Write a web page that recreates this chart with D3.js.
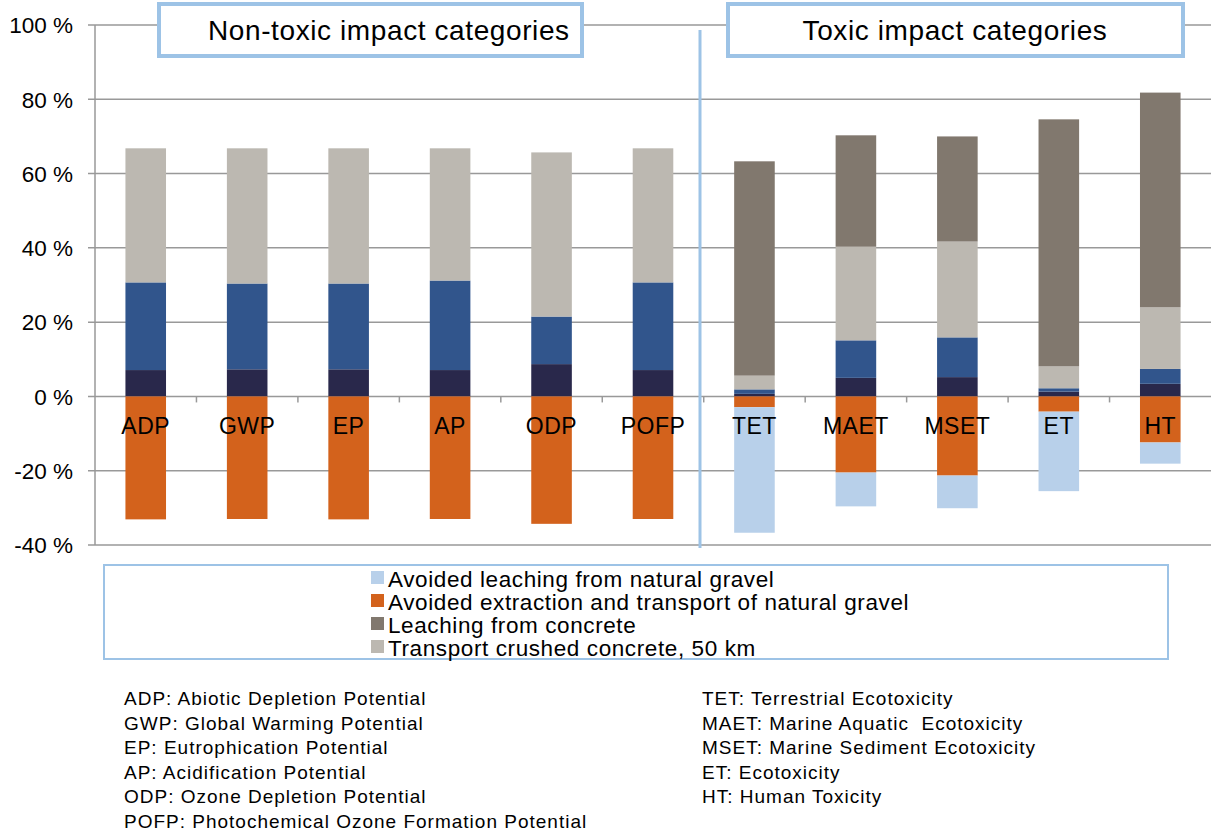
<!DOCTYPE html>
<html>
<head>
<script src="https://d3js.org/d3.v7.min.js"></script>
<style>
  body { margin: 0; background: #fff; }
  text { font-family: "Liberation Sans", Arial, sans-serif; fill: #000; white-space: pre; }
</style>
</head>
<body>
<script>
// categories and values (% contribution)
var categories = ["ADP", "GWP", "EP", "AP", "ODP", "POFP", "TET", "MAET", "MSET", "ET", "HT"];
var crushing   = [7.1, 7.3, 7.3, 7.1, 8.7, 7.1, 0.7, 5.0, 5.2, 1.3, 3.4];
var sorting    = [23.6, 23.1, 23.1, 24.1, 12.8, 23.6, 1.2, 10.1, 10.7, 0.9, 4.0];
var transport  = [36.1, 36.4, 36.4, 35.6, 44.2, 36.1, 3.7, 25.2, 25.8, 5.9, 16.6];
var leaching   = [0, 0, 0, 0, 0, 0, 57.7, 30.0, 28.3, 66.5, 57.8];
var avoidedExtraction = [-33.1, -33.0, -33.1, -33.0, -34.3, -33.0, -2.9, -20.5, -21.3, -4.1, -12.4];
var avoidedLeaching   = [0, 0, 0, 0, 0, 0, -33.8, -9.1, -8.8, -21.4, -5.7];

var yTicks = [100, 80, 60, 40, 20, 0, -20, -40];
var legendNames = ["Avoided leaching from natural gravel", "Avoided extraction and transport of natural gravel",
                   "Leaching from concrete", "Transport crushed concrete, 50 km"];
var legendKeys = ["avoidedLeaching", "avoidedExtraction", "leaching", "transport"];
var notesLeft = ["ADP: Abiotic Depletion Potential", "GWP: Global Warming Potential", "EP: Eutrophication Potential",
                 "AP: Acidification Potential", "ODP: Ozone Depletion Potential", "POFP: Photochemical Ozone Formation Potential"];
var notesRight = ["TET: Terrestrial Ecotoxicity", "MAET: Marine Aquatic  Ecotoxicity", "MSET: Marine Sediment Ecotoxicity",
                  "ET: Ecotoxicity", "HT: Human Toxicity"];

var keys = ["crushing", "sorting", "transport", "leaching", "avoidedExtraction", "avoidedLeaching"];
var colors = {
  crushing: "#29284b", sorting: "#31558c", transport: "#bcb8b1",
  leaching: "#81786e", avoidedExtraction: "#d3621c", avoidedLeaching: "#b8d0ea"
};

var rows = categories.map(function(c, i) {
  return { cat: c, crushing: crushing[i], sorting: sorting[i], transport: transport[i],
           leaching: leaching[i], avoidedExtraction: avoidedExtraction[i], avoidedLeaching: avoidedLeaching[i] };
});

var W = 1212, H = 833;
var svg = d3.select("body").append("svg").attr("width", W).attr("height", H);
svg.append("rect").attr("width", W).attr("height", H).attr("fill", "#fff");

var x = d3.scaleBand().domain(categories).range([95, 1211]).padding(0);
var y = d3.scaleLinear().domain([-40, 100]).range([545, 25]);
var barW = x.bandwidth() * 0.4;

// grid lines
svg.append("g").selectAll("line").data(yTicks).enter().append("line")
  .attr("x1", 88).attr("x2", 1211)
  .attr("y1", function(d) { return y(d); }).attr("y2", function(d) { return y(d); })
  .attr("stroke", "#999").attr("stroke-width", 1.5);

// y axis
svg.append("line").attr("x1", 95).attr("x2", 95).attr("y1", y(100)).attr("y2", y(-40))
  .attr("stroke", "#999").attr("stroke-width", 1.5);
svg.append("g").selectAll("text").data(yTicks).enter().append("text")
  .attr("x", 73).attr("y", function(d) { return y(d) + 8.3; })
  .attr("text-anchor", "end").style("font-size", "22.5px")
  .text(function(d) { return d + " %"; });

// category ticks on zero line
svg.append("g").selectAll("line").data(categories.slice(1)).enter().append("line")
  .attr("x1", function(d) { return x(d); }).attr("x2", function(d) { return x(d); })
  .attr("y1", y(0)).attr("y2", y(0) + 6)
  .attr("stroke", "#999").attr("stroke-width", 1.5);

// stacked bars
var series = d3.stack().keys(keys).offset(d3.stackOffsetDiverging)(rows);
svg.append("g").selectAll("g").data(series).enter().append("g")
  .attr("fill", function(s) { return colors[s.key]; })
  .selectAll("rect").data(function(s) { return s; }).enter().append("rect")
  .attr("x", function(d) { return x(d.data.cat) + (x.bandwidth() - barW) / 2; })
  .attr("width", barW)
  .attr("y", function(d) { return y(Math.max(d[0], d[1])); })
  .attr("height", function(d) { return Math.abs(y(d[0]) - y(d[1])); });

// category labels
svg.append("g").selectAll("text").data(categories).enter().append("text")
  .attr("x", function(d) { return x(d) + x.bandwidth() / 2; })
  .attr("y", 434).attr("text-anchor", "middle")
  .style("font-size", "23px").style("letter-spacing", "0.5px")
  .text(function(d) { return d; });

// separator
svg.append("line").attr("x1", 700).attr("x2", 700).attr("y1", 30).attr("y2", 548)
  .attr("stroke", "#9dc3e6").attr("stroke-width", 3);

// header boxes
var headers = [
  { text: "Non-toxic impact categories", x0: 159, x1: 582, tx: 208, anchor: "start" },
  { text: "Toxic impact categories", x0: 728, x1: 1183, tx: 955, anchor: "middle" }
];
headers.forEach(function(h) {
  svg.append("rect").attr("x", h.x0).attr("y", 4).attr("width", h.x1 - h.x0).attr("height", 52)
    .attr("fill", "#fff").attr("stroke", "#9dc3e6").attr("stroke-width", 4);
  svg.append("text").attr("x", h.tx).attr("y", 40).attr("text-anchor", h.anchor)
    .style("font-size", "28px").style("letter-spacing", "0.6px").text(h.text);
});

// legend
svg.append("rect").attr("x", 104).attr("y", 565).attr("width", 1064).attr("height", 94)
  .attr("fill", "#fff").attr("stroke", "#9dc3e6").attr("stroke-width", 2);
var lg = svg.append("g").selectAll("g").data(legendNames).enter().append("g")
  .attr("transform", function(d, i) { return "translate(371," + (586.5 + i * 23) + ")"; });
lg.append("rect").attr("x", 0).attr("y", -15.5).attr("width", 13).attr("height", 13)
  .attr("fill", function(d, i) { return colors[legendKeys[i]]; });
lg.append("text").attr("x", 17).style("font-size", "22.5px").style("letter-spacing", "0.6px")
  .text(function(d) { return d; });

// abbreviation notes
svg.append("g").selectAll("text").data(notesLeft).enter().append("text")
  .attr("x", 124).attr("y", function(d, i) { return 705 + i * 24.6; })
  .style("font-size", "19px").style("letter-spacing", "1px").text(function(d) { return d; });
svg.append("g").selectAll("text").data(notesRight).enter().append("text")
  .attr("x", 702).attr("y", function(d, i) { return 705 + i * 24.6; })
  .style("font-size", "19px").style("letter-spacing", "1px").text(function(d) { return d; });
</script>
</body>
</html>
